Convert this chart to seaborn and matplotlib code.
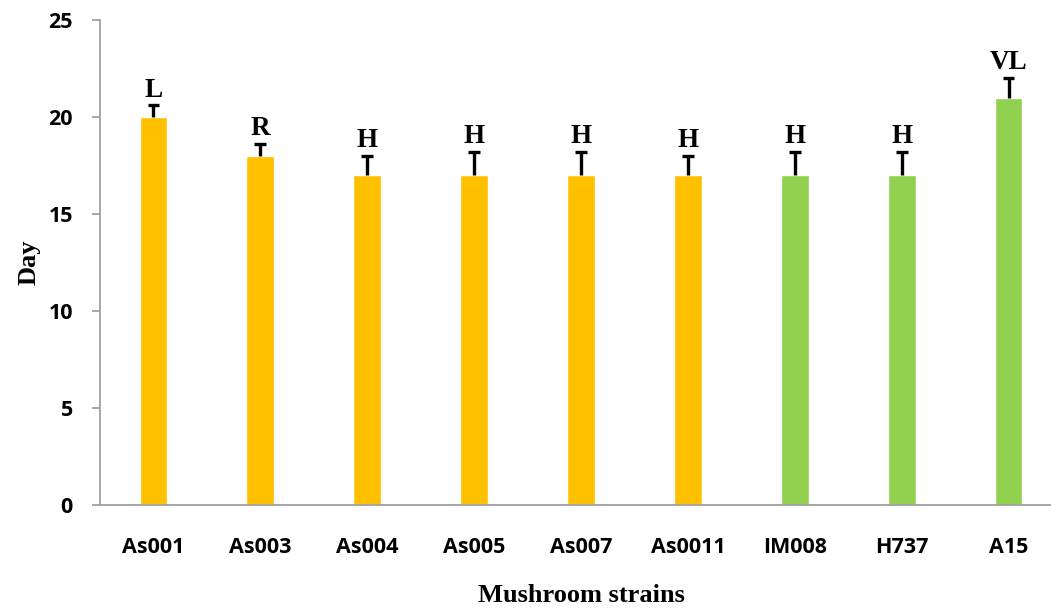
import numpy as np
import pandas as pd
import matplotlib
matplotlib.use("Agg")
import matplotlib.pyplot as plt
import seaborn as sns

sns.set_style("white", {"text.color": "black", "axes.labelcolor": "black",
                        "xtick.color": "black", "ytick.color": "black"})

# data
strains = ["As001", "As003", "As004", "As005", "As007", "As0011", "IM008", "H737", "A15"]
days = [20, 18, 17, 17, 17, 17, 17, 17, 21]
err_up = [0.6, 0.6, 1.0, 1.2, 1.2, 1.0, 1.2, 1.2, 1.0]
grades = ["L", "R", "H", "H", "H", "H", "H", "H", "VL"]
bar_colors = ["#FFC000"] * 6 + ["#92D050"] * 3

df = pd.DataFrame({"strain": strains, "day": days})

fig = plt.figure(figsize=(10.51, 6.09), dpi=100)
ax = fig.add_axes([100 / 1051, 104 / 609, 962 / 1051, 485 / 609])

sns.barplot(data=df, x="strain", y="day", hue="strain", palette=bar_colors,
            width=0.26, legend=False, saturation=1, errorbar=None, ax=ax)

# upper-only error bars, cap on top only
xs = np.arange(len(strains))
tops = np.array(days) + np.array(err_up)
ax.vlines(xs, days, tops, color="black", linewidth=2.4, zorder=3)
ax.hlines(tops, xs - 0.055, xs + 0.055, color="black", linewidth=2.4, zorder=3)

for x, t, g in zip(xs, tops, grades):
    ax.annotate(g, (x, t), xytext=(0, 2), textcoords="offset points",
                ha="center", va="bottom", fontsize=19.5, fontweight="bold",
                family="Liberation Serif", color="black")

ax.set_ylim(0, 25)
ax.set_xlim(-0.5, len(strains) - 0.5)
ax.set_yticks([0, 5, 10, 15, 20, 25])

for side in ["top", "right"]:
    ax.spines[side].set_visible(False)
for side in ["left", "bottom"]:
    ax.spines[side].set_color("#a0a0a0")
    ax.spines[side].set_linewidth(1.3)

ax.tick_params(axis="y", left=True, length=6, width=1.3, color="#a0a0a0",
               labelcolor="black", pad=13.5)
ax.tick_params(axis="x", bottom=False, length=0, labelcolor="black", pad=23)
for lab in ax.get_xticklabels() + ax.get_yticklabels():
    lab.set_fontfamily("Open Sans")
    lab.set_fontweight("bold")
    lab.set_fontsize(15.5)

ax.set_xlabel("Mushroom strains", fontsize=19, fontweight="bold",
              family="Liberation Serif", labelpad=19, color="black")
ax.set_ylabel("Day", fontsize=19, fontweight="bold",
              family="Liberation Serif", labelpad=6, color="black")

fig.savefig("out.png", dpi=100)
